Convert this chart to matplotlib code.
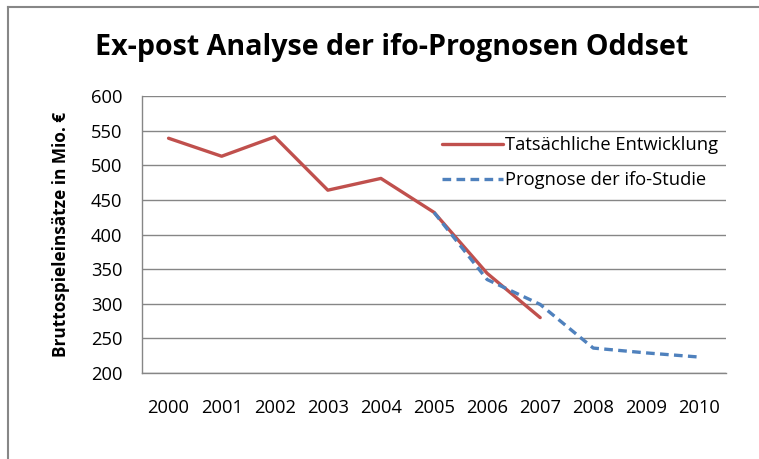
import matplotlib.pyplot as plt
from matplotlib.lines import Line2D

plt.rcParams['font.family'] = ['Open Sans', 'DejaVu Sans']

jahre = ['2000', '2001', '2002', '2003', '2004', '2005', '2006', '2007', '2008', '2009', '2010']
ist = [539, 513, 541, 464, 481, 432, 344, 280]
prognose_jahre = ['2005', '2006', '2007', '2008', '2009', '2010']
prognose = [432, 335, 299, 236, 229, 223]

W, H = 759, 459
fig = plt.figure(figsize=(W / 100, H / 100), dpi=100)
ax = fig.add_axes([142 / W, 1 - 373 / H, (726 - 142) / W, (373 - 96) / H])

xi = list(range(len(jahre)))
xp = [jahre.index(j) for j in prognose_jahre]

ax.plot(xi[:len(ist)], ist, color='#C0504D', lw=2.4, solid_capstyle='round',
        label='Tatsächliche Entwicklung', zorder=3)
ax.plot(xp, prognose, color='#4F81BD', lw=2.4, dashes=(2.6, 1.6),
        label='Prognose der ifo-Studie', zorder=4)

ax.set_xlim(-0.5, len(jahre) - 0.5)
ax.set_ylim(200, 600)
ax.set_yticks(range(200, 601, 50))
ax.set_xticks(xi)
ax.set_xticklabels(jahre)
ax.tick_params(length=0, labelsize=13.2, colors='#000000')
ax.tick_params(axis='x', pad=19)
ax.tick_params(axis='y', pad=14)
ax.grid(axis='y', color='#868686', lw=1)
ax.set_axisbelow(True)
for s in ['top', 'right']:
    ax.spines[s].set_visible(False)
for s in ['left', 'bottom']:
    ax.spines[s].set_color('#868686')
    ax.spines[s].set_linewidth(1)

ax.set_ylabel('Bruttospieleinsätze in Mio. €', fontsize=12.4, fontweight='bold')
ax.yaxis.set_label_coords(-72 / (726 - 142), 0.5)

fig.text(392 / W, 1 - 47 / H, 'Ex-post Analyse der ifo-Prognosen Oddset',
         ha='center', va='center', fontsize=20.6, fontweight='bold')

ax.legend(loc='upper left', bbox_to_anchor=(442 / W, 1 - 136 / H),
          bbox_transform=fig.transFigure, frameon=False, borderpad=0,
          borderaxespad=0, fontsize=13.2, handlelength=3.3, handletextpad=0.15,
          labelspacing=0.95)

# Rahmen des Diagrammbereichs
fig.add_artist(Line2D([8 / W, 8 / W], [0, 1 - 7 / H], color='#878787', lw=1.5,
                      transform=fig.transFigure))
fig.add_artist(Line2D([8 / W, 1], [1 - 7 / H, 1 - 7 / H], color='#878787', lw=1.5,
                      transform=fig.transFigure))

fig.savefig('out.png', dpi=100)
